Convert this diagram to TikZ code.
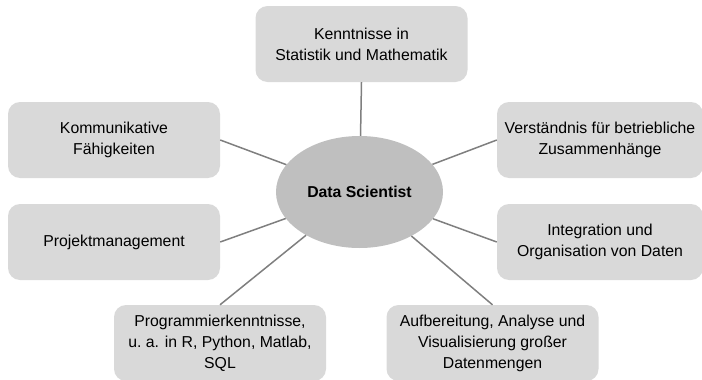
\documentclass[tikz,border=0pt]{standalone}
\usepackage{fontspec}
\setmainfont{Liberation Sans}
\usepackage{xcolor}
\definecolor{ds-box}{HTML}{D9D9D9}
\definecolor{ds-core}{HTML}{BFBFBF}
\definecolor{ds-line}{HTML}{7F7F7F}
\usepackage{tikz}
\usetikzlibrary{shapes.geometric}

\tikzset{
  skill/.style={fill=ds-box, rounded corners=12pt, minimum width=212pt, minimum height=76pt,
    align=center, inner sep=2pt, font=\fontsize{15.8}{21}\selectfont},
  core/.style={ellipse, fill=ds-core, minimum width=167pt, minimum height=112pt, inner sep=0pt,
    font=\fontsize{15.8}{21}\selectfont\bfseries},
  link/.style={ds-line, line width=1.5pt}
}

\begin{document}
\begin{tikzpicture}[x=1pt, y=-1pt]
  \useasboundingbox (0,0) rectangle (702,380);

  \node[core] (ds) at (359.5,192) {Data Scientist};

  \node[skill] (kenntnisse) at (361.5,44) {Kenntnisse in\\Statistik und Mathematik};
  \node[skill] (kommunikation) at (114,140) {Kommunikative\\Fähigkeiten};
  \node[skill] (projekt) at (114,242) {Projektmanagement};
  \node[skill] (programmierung) at (220,343) {Programmierkenntnisse,\\u.\ a. in R, Python, Matlab,\\SQL};
  \node[skill] (aufbereitung) at (492.5,343) {Aufbereitung, Analyse und\\Visualisierung großer\\Datenmengen};
  \node[skill, minimum width=206pt] (integration) at (600,242) {Integration und\\Organisation von Daten};
  \node[skill, minimum width=206pt] (verstaendnis) at (600,140) {Verständnis für betriebliche\\Zusammenhänge};

  \draw[link] (kenntnisse.south) -- (ds);
  \draw[link] (kommunikation.east) -- (ds);
  \draw[link] (projekt.east) -- (ds);
  \draw[link] (programmierung.north) -- (ds);
  \draw[link] (aufbereitung.north) -- (ds);
  \draw[link] (integration.west) -- (ds);
  \draw[link] (verstaendnis.west) -- (ds);

\end{tikzpicture}
\end{document}
